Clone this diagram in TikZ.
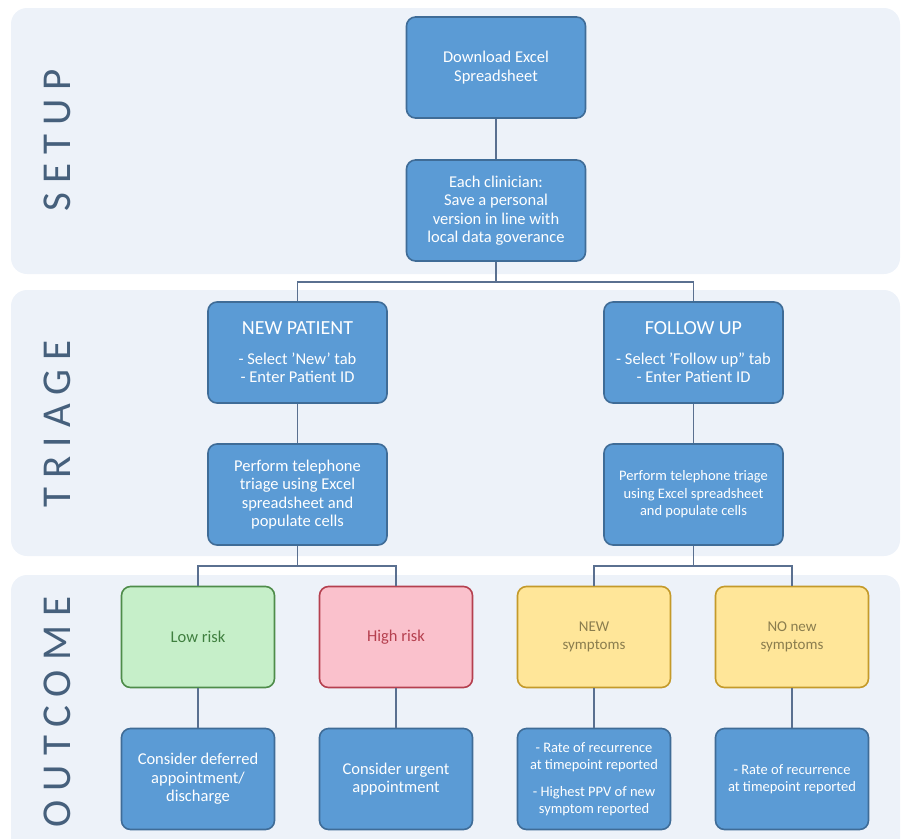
\documentclass[tikz,border=0pt]{standalone}
\usepackage{fontspec}
\setmainfont{Carlito}
\newfontfamily\bandfont[LetterSpace=22]{Carlito}
\usetikzlibrary{calc}

\definecolor{bandbg}{HTML}{EDF2F9}
\definecolor{boxblue}{HTML}{5B9BD5}
\definecolor{boxline}{HTML}{3F6C97}
\definecolor{wire}{HTML}{5A7090}
\definecolor{lowfill}{HTML}{C6EFC9}
\definecolor{lowline}{HTML}{4E8C4A}
\definecolor{lowtext}{HTML}{3F7F3F}
\definecolor{highfill}{HTML}{FAC1CC}
\definecolor{highline}{HTML}{B5404F}
\definecolor{symfill}{HTML}{FFE699}
\definecolor{symline}{HTML}{C49A2A}
\definecolor{symtext}{HTML}{8A7D4E}
\definecolor{bandtext}{HTML}{46607C}

\tikzset{box/.style={draw=boxline, fill=boxblue, line width=1.6pt, rounded corners=9pt,
  text=white, align=center, minimum width=179pt, minimum height=101pt, inner sep=2pt,
  font=\fontsize{16.5}{18.5}\selectfont}}
\tikzset{sbox/.style={box, minimum width=153pt}}
\tikzset{low/.style={sbox, fill=lowfill, draw=lowline, text=lowtext}}
\tikzset{high/.style={sbox, fill=highfill, draw=highline, text=highline}}
\tikzset{sym/.style={sbox, fill=symfill, draw=symline, text=symtext, font=\fontsize{15}{18}\selectfont}}
\tikzset{small/.style={font=\fontsize{14.5}{17.5}\selectfont}}
\tikzset{band/.style={fill=bandbg, rounded corners=16pt}}
\tikzset{bandlabel/.style={rotate=90, text=bandtext, font=\bandfont\fontsize{41}{41}\selectfont}}
\tikzset{link/.style={draw=wire, line width=1.5pt}}
\tikzset{bus/.style={link, to path={(\tikztostart.north) |- ([yshift=-20pt]\tikztotarget.south) -- (\tikztotarget.south)}}}

\begin{document}
\begin{tikzpicture}[x=1pt, y=-1pt]
  \useasboundingbox (0,0) rectangle (902,838);
  % the three stages
  \fill[band] (11,8) rectangle (900,274);
  \fill[band] (11,290) rectangle (900,556);
  \fill[band] (11,575) rectangle (900,870);
  \node[bandlabel] (setup) at (57,140) {SETUP};
  \node[bandlabel] (triage) at (57,424) {TRIAGE};
  \node[bandlabel] (outcome) at (57,712) {OUTCOME};

  % setup
  \node[box] (dl) at (496,67.5) {Download Excel\\Spreadsheet};
  \node[box] (clin) at (496,210.5) {Each clinician:\\Save a personal\\version in line with\\local data goverance}
    edge [link] (dl);

  % triage
  \node[box] (newpt) at (297.5,352.5)
    {{\fontsize{20}{22}\selectfont NEW PATIENT}\\[11pt]- Select 'New' tab\\- Enter Patient ID}
    edge [bus] (clin);
  \node[box] (follow) at (693.5,352.5)
    {{\fontsize{20}{22}\selectfont FOLLOW UP}\\[11pt]- Select 'Follow up" tab\\- Enter Patient ID}
    edge [bus] (clin);
  \node[box] (tnew) at (297.5,494.5) {Perform telephone\\triage using Excel\\spreadsheet and\\populate cells}
    edge [link] (newpt);
  \node[box, small] (tfollow) at (693.5,494.5) {Perform telephone triage\\using Excel spreadsheet\\and populate cells}
    edge [link] (follow);

  % outcome
  \node[low] (low) at (198,637) {Low risk} edge [bus] (tnew);
  \node[high] (high) at (396,637) {High risk} edge [bus] (tnew);
  \node[sym] (newsym) at (594,637) {NEW\\symptoms} edge [bus] (tfollow);
  \node[sym] (nosym) at (792,637) {NO new\\symptoms} edge [bus] (tfollow);

  \node[sbox] (defer) at (198,779) {Consider deferred\\appointment/\\discharge} edge [link] (low);
  \node[sbox] (urgent) at (396,779) {Consider urgent\\appointment} edge [link] (high);
  \node[sbox, small] (recnew) at (594,779)
    {- Rate of recurrence\\at timepoint reported\\[9pt]- Highest PPV of new\\symptom reported}
    edge [link] (newsym);
  \node[sbox, small] (recold) at (792,779) {- Rate of recurrence\\at timepoint reported}
    edge [link] (nosym);
\end{tikzpicture}
\end{document}
